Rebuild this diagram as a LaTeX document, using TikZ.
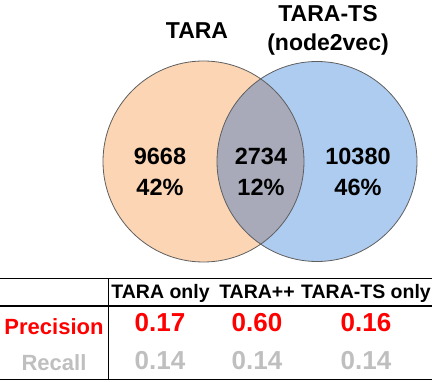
\documentclass[tikz,border=0pt]{standalone}
\usepackage{fontspec}
\setmainfont{Liberation Sans}
\usepackage{xcolor}
\usepackage{tikz}
\usetikzlibrary{positioning}
\definecolor{taraorange}{RGB}{251,213,180}
\definecolor{tsblue}{RGB}{174,204,240}
\definecolor{overlapgray}{RGB}{168,170,185}
\definecolor{rimgray}{RGB}{95,95,95}
\definecolor{recallgray}{RGB}{191,191,191}

\begin{document}
\begin{tikzpicture}[x=1pt,y=-1pt,
    title/.style={font=\fontsize{23}{29}\selectfont\bfseries, align=center},
    count/.style={font=\fontsize{23.5}{31}\selectfont\bfseries, align=center},
    head/.style={font=\fontsize{19.5}{22}\selectfont\bfseries, anchor=base},
    rowlabel/.style={font=\fontsize{22}{26}\selectfont\bfseries},
    value/.style={font=\fontsize{26}{30}\selectfont\bfseries}]
    \useasboundingbox (0,0) rectangle (432,382);
    % venn
    \fill[taraorange] (203.5,161.5) circle (100.5pt);
    \fill[tsblue] (317,161.5) circle (100pt);
    \begin{scope}
        \clip (203.5,161.5) circle (100.5pt);
        \fill[overlapgray] (317,161.5) circle (100pt);
    \end{scope}
    \draw[rimgray,line width=0.8pt] (203.5,161.5) circle (100.5pt);
    \draw[rimgray,line width=0.8pt] (317,161.5) circle (100pt);
    \node[title] (tara) at (197,31) {TARA};
    \node[title] (tarats) at (328,30) {TARA-TS\\(node2vec)};
    \node[count] (onlyA) at (160,172) {9668\\42\%};
    \node[count] (both) at (261,172) {2734\\12\%};
    \node[count] (onlyB) at (358,172) {10380\\46\%};
    % table
    \draw[line width=1.2pt] (0,278.5) -- (432,278.5);
    \draw[line width=1.2pt] (0,306) -- (432,306);
    \draw[line width=1.2pt] (0,379.5) -- (432,379.5);
    \draw[line width=1.2pt] (108.3,278.5) -- (108.3,379.5);
    \node[head] (hA) at (160.5,298.3) {TARA only};
    \node[head] (hAB) at (257,298.3) {TARA++};
    \node[head] (hB) at (366,298.3) {TARA-TS only};
    \node[rowlabel,text=red] (prec) at (54,327) {Precision};
    \node[rowlabel,text=recallgray] (rec) at (54,363) {Recall};
    \node[value,text=red] (pA) at (160,323) {0.17};
    \node[value,text=red] (pAB) at (257,323) {0.60};
    \node[value,text=red] (pB) at (366,323) {0.16};
    \node[value,text=recallgray] (rA) at (160,360.5) {0.14};
    \node[value,text=recallgray] (rAB) at (257,360.5) {0.14};
    \node[value,text=recallgray] (rB) at (366,360.5) {0.14};
\end{tikzpicture}
\end{document}
